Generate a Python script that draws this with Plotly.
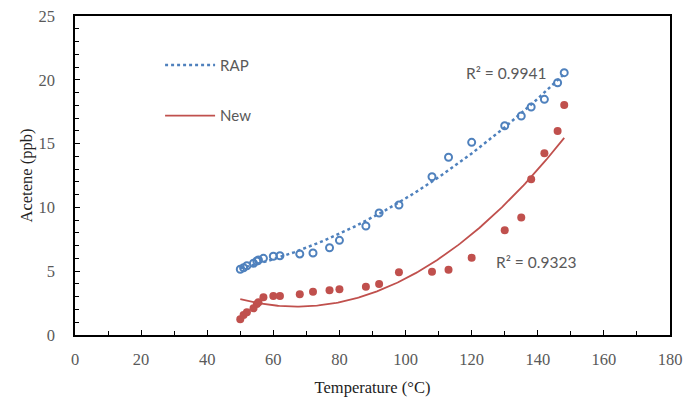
import numpy as np
import plotly.graph_objects as go

temperature = [50, 51, 52, 54, 55, 55.5, 57, 60, 62, 68, 72, 77, 80, 88, 92, 98,
               108, 113, 120, 130, 135, 138, 142, 146, 148]
rap = [5.15, 5.27, 5.43, 5.62, 5.80, 5.88, 6.01, 6.17, 6.21, 6.35, 6.43, 6.84, 7.42,
       8.54, 9.56, 10.19, 12.4, 13.93, 15.10, 16.40, 17.16, 17.87, 18.47, 19.77, 20.56]
new = [1.23, 1.57, 1.78, 2.09, 2.43, 2.56, 2.95, 3.06, 3.06, 3.19, 3.39, 3.50, 3.58,
       3.79, 4.00, 4.91, 4.96, 5.12, 6.06, 8.21, 9.20, 12.2, 14.24, 15.99, 18.03]
series_names = ["RAP", "New"]
r2_labels = ["R² = 0.9941", "R² = 0.9323"]

blue = "#4F81BD"
red = "#C0504D"
gray = "#595959"

x = np.array(temperature)
xs = np.linspace(x.min(), x.max(), 200)
fit_rap = np.polyval(np.polyfit(x, rap, 2), xs)
fit_new = np.polyval(np.polyfit(x, new, 2), xs)

fig = go.Figure()
fig.add_trace(go.Scatter(x=xs, y=fit_rap, mode="lines", name=series_names[0],
                         line=dict(color=blue, width=2.5, dash="dot"),
                         legendgroup="a"))
fig.add_trace(go.Scatter(x=xs, y=fit_new, mode="lines", name=series_names[1],
                         line=dict(color=red, width=1.8),
                         legendgroup="b"))
fig.add_trace(go.Scatter(x=temperature, y=rap, mode="markers", showlegend=False,
                         marker=dict(symbol="circle-open", size=7, color=blue,
                                     line=dict(width=2, color=blue))))
fig.add_trace(go.Scatter(x=temperature, y=new, mode="markers", showlegend=False,
                         marker=dict(symbol="circle", size=8, color=red)))

fig.add_annotation(x=130.5, y=20.5, text=r2_labels[0], showarrow=False,
                   font=dict(family="Lato", size=15.5, color=gray))
fig.add_annotation(x=139.5, y=5.7, text=r2_labels[1], showarrow=False,
                   font=dict(family="Lato", size=15.5, color=gray))

axis_common = dict(showline=True, linecolor="black", linewidth=1.5, mirror=True,
                   ticks="inside", ticklen=5, tickcolor="black", tickwidth=1,
                   showgrid=False, zeroline=False, automargin=False,
                   tickfont=dict(family="Liberation Serif", size=16.5, color=gray),
                   title_font=dict(family="Liberation Serif", size=16.5, color="#222"))

fig.update_xaxes(range=[0, 180], dtick=20, tick0=0,
                 minor=dict(dtick=10, ticks="inside", ticklen=4, tickcolor="black"),
                 title_text="Temperature (°C)", title_standoff=14,
                 ticklabelstandoff=8, **axis_common)
fig.update_yaxes(range=[0, 25], dtick=5, tick0=0,
                 minor=dict(dtick=1, ticks="inside", ticklen=4, tickcolor="black"),
                 title_text="Acetene (ppb)", title_standoff=2,
                 ticklabelstandoff=15, **axis_common)

fig.update_layout(
    width=687, height=401,
    margin=dict(l=75, r=17, t=16, b=66),
    plot_bgcolor="white", paper_bgcolor="white",
    legend=dict(x=0.143, y=0.897, xanchor="left", yanchor="top",
                bgcolor="rgba(0,0,0,0)", tracegroupgap=28, itemwidth=50,
                font=dict(family="Lato", size=15, color=gray)),
)

fig.write_html("out.html")
